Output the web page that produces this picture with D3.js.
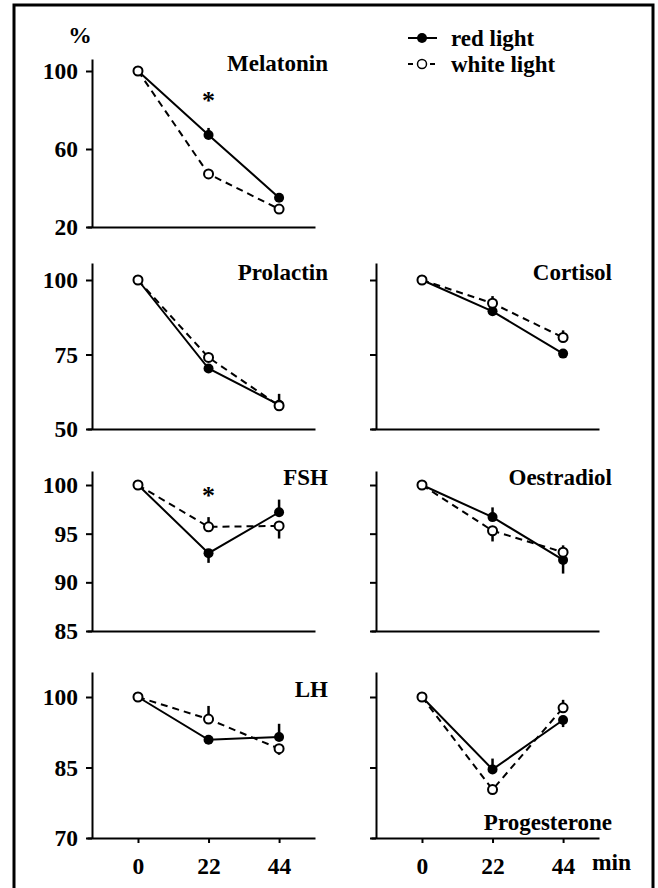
<!DOCTYPE html>
<html>
<head>
<meta charset="utf-8">
<script src="https://cdn.jsdelivr.net/npm/d3@7"></script>
<style>
body { margin: 0; background: #fff; }
text { font-family: "Liberation Serif", "Times New Roman", serif; font-weight: bold; }
</style>
</head>
<body>
<script>
var times = [0, 22, 44];
var hormones = ["Melatonin", "Prolactin", "Cortisol", "FSH", "Oestradiol", "LH", "Progesterone"];

// % of the 0 min value
var redLight = [
    [100, 67.2, 35.0],
    [100, 70.3, 58.1],
    [100, 89.5, 75.3],
    [100, 93.0, 97.2],
    [100, 96.7, 92.3],
    [100, 90.9, 91.5],
    [100, 84.6, 95.1]
];
var whiteLight = [
    [100, 47.2, 29.2],
    [100, 74.0, 57.8],
    [100, 92.2, 80.7],
    [100, 95.7, 95.8],
    [100, 95.3, 93.1],
    [100, 95.3, 89.0],
    [100, 80.3, 97.7]
];

// end of the one-sided error bar, null where there is none
var redErrEnd = [
    [null, 70.8, null],
    [null, null, 61.8],
    [null, null, null],
    [null, 92.0, 98.5],
    [null, 97.7, 90.9],
    [null, null, 94.3],
    [null, 86.9, 93.6]
];
var whiteErrEnd = [
    [null, null, null],
    [null, null, null],
    [null, 94.6, 83.1],
    [null, 96.7, 94.5],
    [null, 94.2, 93.8],
    [null, 98.1, 87.7],
    [null, null, 99.4]
];

var yTicks = [[20, 60, 100], [50, 75, 100], [85, 90, 95, 100], [70, 85, 100]];
var significant = ["Melatonin", "FSH"];   // asterisk at 22 min
var legendLabels = ["red light", "white light"];

var w = 658, h = 888;

var svg = d3.select("body")
            .append("svg")
            .attr("width", w)
            .attr("height", h);

svg.append("rect")
    .attr("x", 14).attr("y", 5)
    .attr("width", 639).attr("height", 890)
    .attr("fill", "none")
    .attr("stroke", "#000")
    .attr("stroke-width", 3);

// row and column layout
var rows = [
    {bottom: 227, y100: 71, top: 59},
    {bottom: 429, y100: 280, top: 263},
    {bottom: 631, y100: 485, top: 471},
    {bottom: 838, y100: 697, top: 672}
];
var cols = [{axis: 92, right: 315, titleX: 328}, {axis: 376, right: 599, titleX: 612}];
var panelPos = [[0, 0], [1, 0], [1, 1], [2, 0], [2, 1], [3, 0], [3, 1]];

var fontSize = 23.5;
var titleSize = 23;

hormones.forEach(function(name, p) {
    var r = panelPos[p][0], c = panelPos[p][1];
    var row = rows[r], col = cols[c];
    var isBottom = (r === rows.length - 1);

    var xScale = d3.scaleLinear()
                    .domain([-15.9, 55.2])
                    .range([col.axis - 5, col.right]);

    var yScale = d3.scaleLinear()
                    .domain([yTicks[r][0], 100])
                    .range([row.bottom, row.y100]);
    yScale.domain([yTicks[r][0], yScale.invert(row.top)]).range([row.bottom, row.top]);

    var g = svg.append("g");

    var xAxis = d3.axisBottom()
                .scale(xScale)
                .tickValues(isBottom ? times : [])
                .tickSize(5)
                .tickSizeOuter(0)
                .tickPadding(14);

    var yAxis = d3.axisLeft()
                .scale(yScale)
                .tickValues(yTicks[r])
                .tickSize(6)
                .tickSizeOuter(0)
                .tickPadding(8)
                .tickFormat(c === 0 ? d3.format("d") : "");

    var xg = g.append("g")
        .attr("transform", "translate(0," + row.bottom + ")")
        .call(xAxis);

    var yg = g.append("g")
        .attr("transform", "translate(" + col.axis + ",0)")
        .call(yAxis);

    [xg, yg].forEach(function(a) {
        a.attr("font-size", fontSize)
         .attr("font-family", null);
        a.selectAll("path, line").attr("stroke", "#000").attr("stroke-width", 2);
        a.selectAll("text").attr("fill", "#000");
    });

    var line = d3.line()
                .x((d, i) => xScale(times[i]))
                .y(d => yScale(d));

    g.append("path")
        .attr("d", line(redLight[p]))
        .attr("fill", "none")
        .attr("stroke", "#000")
        .attr("stroke-width", 2);

    g.append("path")
        .attr("d", line(whiteLight[p]))
        .attr("fill", "none")
        .attr("stroke", "#000")
        .attr("stroke-width", 2)
        .attr("stroke-dasharray", "7,5");

    var errs = [];
    times.forEach(function(t, i) {
        if (redErrEnd[p][i] !== null) errs.push({t: t, v: redLight[p][i], e: redErrEnd[p][i]});
        if (whiteErrEnd[p][i] !== null) errs.push({t: t, v: whiteLight[p][i], e: whiteErrEnd[p][i]});
    });

    g.selectAll(".err")
        .data(errs)
        .enter()
        .append("line")
        .attr("x1", d => xScale(d.t))
        .attr("x2", d => xScale(d.t))
        .attr("y1", d => yScale(d.v))
        .attr("y2", d => yScale(d.e))
        .attr("stroke", "#000")
        .attr("stroke-width", 2.5);

    g.selectAll(".red")
        .data(redLight[p])
        .enter()
        .append("circle")
        .attr("cx", (d, i) => xScale(times[i]))
        .attr("cy", d => yScale(d))
        .attr("r", 5)
        .attr("fill", "#000");

    g.selectAll(".white")
        .data(whiteLight[p])
        .enter()
        .append("circle")
        .attr("cx", (d, i) => xScale(times[i]))
        .attr("cy", d => yScale(d))
        .attr("r", 4.5)
        .attr("fill", "#fff")
        .attr("stroke", "#000")
        .attr("stroke-width", 2);

    g.append("text")
        .attr("x", col.titleX)
        .attr("y", name === "Progesterone" ? row.bottom - 8 : row.y100)
        .attr("text-anchor", "end")
        .attr("font-size", titleSize)
        .text(name);

    if (significant.indexOf(name) >= 0) {
        g.append("text")
            .attr("x", xScale(22))
            .attr("y", yScale(100) + (r === 0 ? 38 : 19))
            .attr("text-anchor", "middle")
            .attr("font-size", 26)
            .attr("font-weight", "normal")
            .text("*");
    }

    if (isBottom && c === 1) {
        g.append("text")
            .attr("x", 592)
            .attr("y", 870)
            .attr("font-size", fontSize)
            .text("min");
    }
});

svg.append("text")
    .attr("x", 80)
    .attr("y", 43)
    .attr("text-anchor", "middle")
    .attr("font-size", fontSize)
    .text("%");

// legend
var legend = svg.append("g");
legendLabels.forEach(function(lab, i) {
    var ly = 38 + i * 26;
    legend.append("line")
        .attr("x1", 408).attr("x2", 437)
        .attr("y1", ly).attr("y2", ly)
        .attr("stroke", "#000")
        .attr("stroke-width", 2)
        .attr("stroke-dasharray", i === 0 ? null : "5,6");
    legend.append("circle")
        .attr("cx", 422).attr("cy", ly)
        .attr("r", i === 0 ? 5 : 4.5)
        .attr("fill", i === 0 ? "#000" : "#fff")
        .attr("stroke", "#000")
        .attr("stroke-width", i === 0 ? 0 : 1.5);
    legend.append("text")
        .attr("x", 451)
        .attr("y", ly + 8)
        .attr("font-size", titleSize)
        .text(lab);
});
</script>
</body>
</html>
